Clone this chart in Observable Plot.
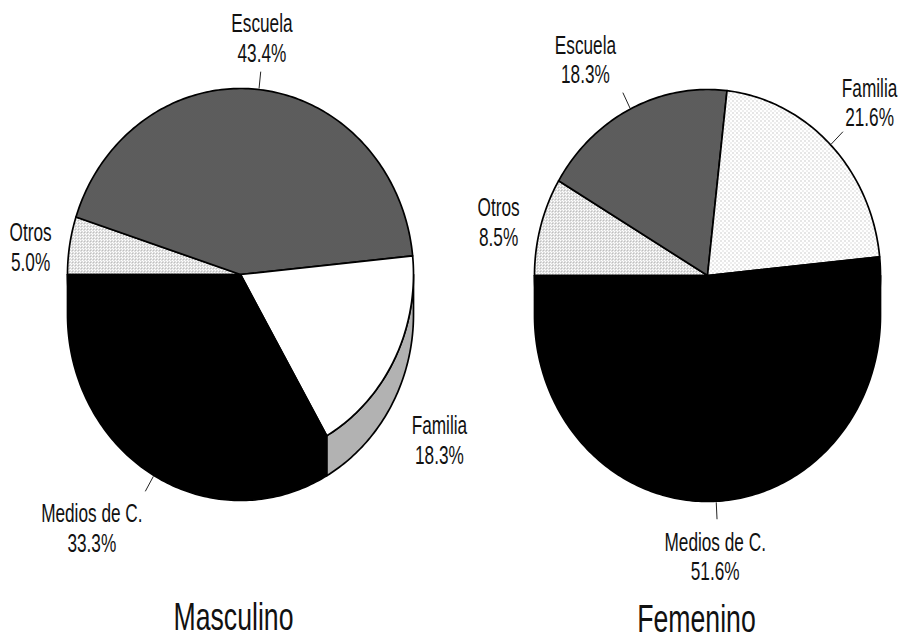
<!DOCTYPE html>
<html>
<head>
<meta charset="utf-8">
<script src="https://cdn.jsdelivr.net/npm/d3@7"></script>
<script src="https://cdn.jsdelivr.net/npm/@observablehq/plot@0.6"></script>
<style>
  html, body { margin: 0; padding: 0; background: #fff; }
  #chart { width: 903px; height: 641px; }
</style>
</head>
<body>
<div id="chart"></div>
<script>
// ---------- data ----------
const categories = ["Otros", "Escuela", "Familia", "Medios de C."];
const masculino = [5.0, 43.4, 18.3, 33.3];
const femenino = [8.5, 18.3, 21.6, 51.6];
const panelTitles = ["Masculino", "Femenino"];

// ---------- layout & style ----------
const W = 903, H = 641;
const FONT = '"Liberation Sans", Arial, Helvetica, sans-serif';
const TEXT_SCALE_X = 0.82, TEXT_SCALE_Y = 1.2;   // narrow, slightly tall lettering of the scan
const RX = 173, RY = 186, DEPTH = 40;
const deg = Math.PI / 180;
const pies = [
  {
    series: masculino, title: panelTitles[0], cx: 240, cy: 274, titleOffset: [-7, 343],
    topFill: ["url(#hLight)", "url(#hDark)", "#ffffff", "#000000"],
    wallFill: ["#bdbdbd", "#4a4a4a", "url(#hMid)", "#000000"],
    labelOffset: [[-39, 1], [3, -52], [45, 40], [-62, 52]],
    tick: [false, true, false, true]
  },
  {
    series: femenino, title: panelTitles[1], cx: 707, cy: 275, titleOffset: [-11, 344],
    topFill: ["url(#hLight)", "url(#hDark)", "url(#hFaint)", "#000000"],
    wallFill: ["#bdbdbd", "#4a4a4a", "#c8c8c8", "#000000"],
    labelOffset: [[-42, -5], [-45, -50], [39, -43], [-1, 55]],
    tick: [false, true, true, true]
  }
];

// ---------- geometry from the values ----------
const arcPt = (p, a, drop = 0) => ({x: p.cx + RX * Math.sin(a), y: p.cy - RY * Math.cos(a) + drop});
const slicePts = [], wallPts = [], labels = [], ticks = [], titles = [];

pies.forEach((p, pi) => {
  const arcs = d3.pie().sort(null).startAngle(270 * deg).endAngle(630 * deg)(p.series);
  arcs.forEach((a, i) => {
    const key = `${pi}-${i}`;
    const n = Math.max(2, Math.ceil((a.endAngle - a.startAngle) / deg));
    slicePts.push({key, fill: p.topFill[i], x: p.cx, y: p.cy});
    for (let k = 0; k <= n; k++) {
      const t = a.startAngle + (a.endAngle - a.startAngle) * k / n;
      slicePts.push({key, fill: p.topFill[i], ...arcPt(p, t)});
    }
    const lo = Math.max(a.startAngle, 450 * deg), hi = Math.min(a.endAngle, 630 * deg);
    if (hi > lo) {
      const m = Math.max(2, Math.ceil((hi - lo) / deg));
      for (let k = 0; k <= m; k++) {
        const t = lo + (hi - lo) * k / m;
        wallPts.push({key, fill: p.wallFill[i], ...arcPt(p, t)});
      }
      for (let k = m; k >= 0; k--) {
        const t = lo + (hi - lo) * k / m;
        wallPts.push({key, fill: p.wallFill[i], ...arcPt(p, t, DEPTH)});
      }
    }
    const mid = (a.startAngle + a.endAngle) / 2;
    const lower = Math.cos(mid) < 0;
    const anchor = arcPt(p, mid, lower ? DEPTH : 0);
    const off = p.labelOffset[i];
    labels.push({x: anchor.x + off[0], y: anchor.y + off[1],
                 text: `${categories[i]}\n${p.series[i].toFixed(1)}%`});
    if (p.tick[i]) {
      let dx = RX * Math.sin(mid), dy = -RY * Math.cos(mid);
      const len = Math.hypot(dx, dy); dx /= len; dy /= len;
      ticks.push({x1: anchor.x + dx * 1, y1: anchor.y + dy * 1,
                  x2: anchor.x + dx * 18, y2: anchor.y + dy * 18});
    }
  });
  titles.push({x: p.cx + p.titleOffset[0], y: p.cy + p.titleOffset[1], text: p.title});
});

const chart = Plot.plot({
  width: W, height: H, margin: 0,
  style: {background: "#fff", overflow: "visible"},
  x: {domain: [0, W], range: [0, W], axis: null},
  y: {domain: [0, H], range: [0, H], axis: null},
  color: {type: "identity"},
  marks: [
    Plot.line(wallPts, {x: "x", y: "y", z: "key", fill: "fill", stroke: "#000", strokeWidth: 1.7, curve: "linear-closed", strokeLinejoin: "round"}),
    Plot.line(slicePts, {x: "x", y: "y", z: "key", fill: "fill", stroke: "#000", strokeWidth: 1.7, curve: "linear-closed", strokeLinejoin: "round"}),
    Plot.link(ticks, {x1: "x1", y1: "y1", x2: "x2", y2: "y2", stroke: "#222", strokeWidth: 1}),
    Plot.text(labels, {x: "x", y: "y", text: "text", fontSize: 21, lineHeight: 1.17, fill: "#111", fontFamily: FONT}),
    Plot.text(titles, {x: "x", y: "y", text: "text", fontSize: 32.5, fill: "#111", fontFamily: FONT})
  ]
});

// halftone-like fills of the printed original
const defs = document.createElementNS("http://www.w3.org/2000/svg", "defs");
defs.innerHTML = `
  <pattern id="hDark" width="2" height="2" patternUnits="userSpaceOnUse">
    <rect width="2" height="2" fill="#a8a8a8"/><rect width="1" height="1" fill="#111"/><rect x="1" y="1" width="1" height="1" fill="#111"/>
  </pattern>
  <pattern id="hMid" width="2" height="2" patternUnits="userSpaceOnUse">
    <rect width="2" height="2" fill="#e2e2e2"/><rect width="1" height="1" fill="#222"/>
  </pattern>
  <pattern id="hLight" width="3" height="3" patternUnits="userSpaceOnUse">
    <rect width="3" height="3" fill="#fff"/><rect width="1" height="1" fill="#777"/><rect x="2" y="1" width="1" height="1" fill="#888"/>
  </pattern>
  <pattern id="hFaint" width="4" height="4" patternUnits="userSpaceOnUse">
    <rect width="4" height="4" fill="#fff"/><rect width="1" height="1" fill="#999"/><rect x="2" y="2" width="1" height="1" fill="#bbb"/>
  </pattern>`;
chart.insertBefore(defs, chart.firstChild);

// narrow, slightly tall lettering: scale glyphs around their anchor
chart.querySelectorAll("text").forEach(t => {
  const tr = t.getAttribute("transform");
  if (tr && /translate/.test(tr)) {
    t.setAttribute("transform", tr + ` scale(${TEXT_SCALE_X},${TEXT_SCALE_Y})`);
  } else {
    const x = +(t.getAttribute("x") || 0), y = +(t.getAttribute("y") || 0);
    t.setAttribute("transform", `translate(${x * (1 - TEXT_SCALE_X)},${y * (1 - TEXT_SCALE_Y)}) scale(${TEXT_SCALE_X},${TEXT_SCALE_Y})`);
  }
});

document.getElementById("chart").appendChild(chart);
</script>
</body>
</html>
